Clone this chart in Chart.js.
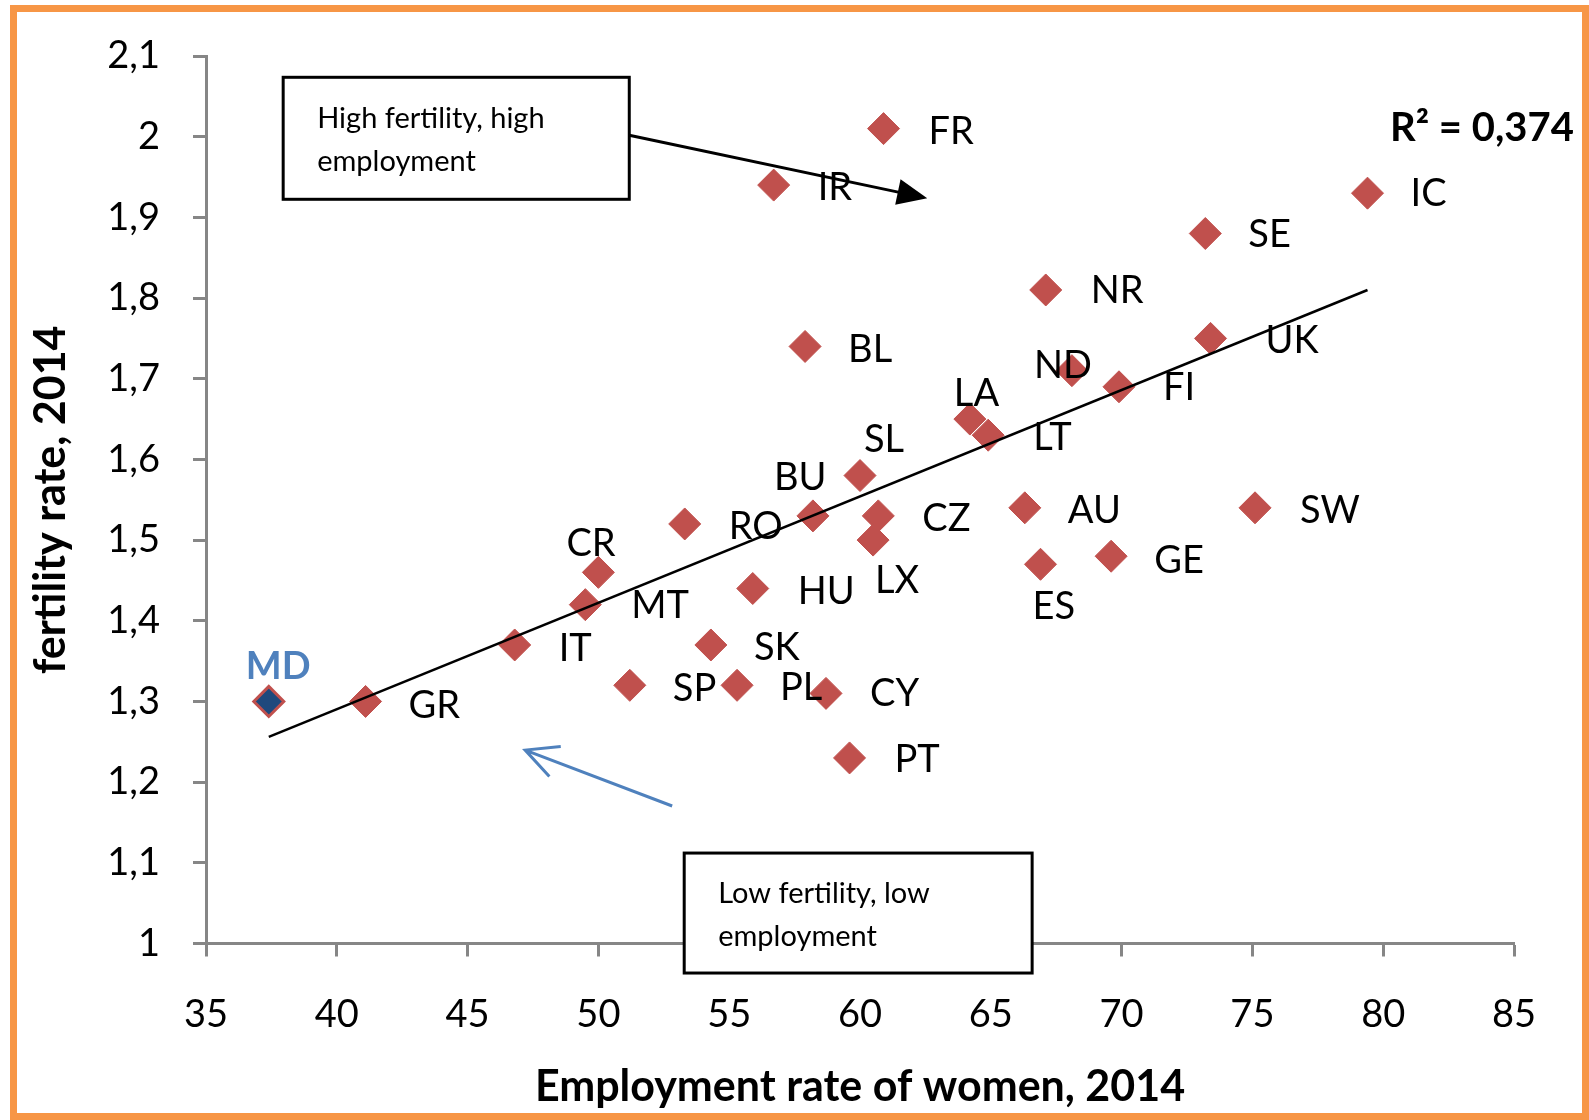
<!DOCTYPE html>
<html>
<head>
<meta charset="utf-8">
<script src="https://cdn.jsdelivr.net/npm/chart.js@4.4.0/dist/chart.umd.min.js"></script>
<style>
  html, body { margin: 0; padding: 0; background: #fff; }
  #wrap { position: relative; width: 1589px; height: 1120px; }
</style>
</head>
<body>
<div id="wrap"><canvas id="fertChart" width="1589" height="1120"></canvas></div>
<script>
// country codes, employment rate of women (x) and fertility rate (y), 2014
var countries = ['FR', 'IR', 'IC', 'SE', 'NR', 'UK', 'BL', 'ND', 'FI', 'LA', 'LT', 'SL', 'BU', 'CZ', 'LX',
                 'AU', 'SW', 'RO', 'ES', 'GE', 'CR', 'MT', 'HU', 'IT', 'SK', 'SP', 'PL', 'CY', 'PT', 'GR'];
var empRate = [60.9, 56.7, 79.4, 73.2, 67.1, 73.4, 57.9, 68.1, 69.9, 64.2, 64.9, 60.0, 58.2, 60.7, 60.5,
               66.3, 75.1, 53.3, 66.9, 69.6, 50.0, 49.5, 55.9, 46.8, 54.3, 51.2, 55.3, 58.7, 59.6, 41.1];
var fertRate = [2.01, 1.94, 1.93, 1.88, 1.81, 1.75, 1.74, 1.71, 1.69, 1.65, 1.63, 1.58, 1.53, 1.53, 1.50,
                1.54, 1.54, 1.52, 1.47, 1.48, 1.46, 1.42, 1.44, 1.37, 1.37, 1.32, 1.32, 1.31, 1.23, 1.30];

// Moldova, highlighted
var mdLabel = 'MD';
var mdEmp = 37.4;
var mdFert = 1.30;

// linear trend line ends, as drawn in the picture
var trendX = [37.4, 79.4];
var trendY = [1.256, 1.81];
var rSquared = 'R\u00b2 = 0,374';

var xTickLabels = ['35', '40', '45', '50', '55', '60', '65', '70', '75', '80', '85'];
var yTickLabels = ['1', '1,1', '1,2', '1,3', '1,4', '1,5', '1,6', '1,7', '1,8', '1,9', '2', '2,1'];

var xTitle = 'Employment rate of women, 2014';
var yTitle = 'fertility rate, 2014';

// label offsets in px from the marker: [dx to text left, dy to text centre]
var labelOffsets = {
    FR: [45, 3], IR: [44, 3], IC: [43, 1], SE: [43, 1], NR: [45, 1], UK: [55, 2], BL: [43, 3],
    ND: [-38, -5], FI: [44, 1], LA: [-16, -25], LT: [45, 3], SL: [4, -36], BU: [-39, -38],
    CZ: [44, 3], LX: [2, 41], AU: [43, 3], SW: [45, 3], RO: [44, 3], ES: [-8, 42], GE: [43, 5],
    CR: [-32, -29], MT: [46, 1], HU: [45, 3], IT: [44, 4], SK: [43, 3], SP: [43, 3], PL: [43, 2],
    CY: [44, 0], PT: [45, 2], GR: [43, 4], MD: [-23, -35]
};

var FONT = 'Lato, "Open Sans", sans-serif';
var RED = '#C0504D';
var BLUE = '#4F81BD';
var GREY = '#868686';

function scatterPoints(xs, ys) {
    var pts = [];
    for (var i = 0; i < xs.length; i++) pts.push({ x: xs[i], y: ys[i] });
    return pts;
}

// annotations: labels, text boxes, arrows, frame
var annotate = {
    id: 'annotate',
    afterDraw: function (chart) {
        var ctx = chart.ctx;
        var xs = chart.scales.x, ys = chart.scales.y;
        var X = function (v) { return xs.getPixelForValue(v); };
        var Y = function (v) { return ys.getPixelForValue(v); };

        ctx.save();
        // country labels
        ctx.font = '38px ' + FONT;
        ctx.fillStyle = '#000';
        ctx.textAlign = 'left';
        ctx.textBaseline = 'middle';
        for (var i = 0; i < countries.length; i++) {
            var off = labelOffsets[countries[i]];
            ctx.fillText(countries[i], X(empRate[i]) + off[0], Y(fertRate[i]) + off[1]);
        }
        ctx.font = 'bold 38px ' + FONT;
        ctx.fillStyle = BLUE;
        ctx.fillText(mdLabel, X(mdEmp) + labelOffsets.MD[0], Y(mdFert) + labelOffsets.MD[1]);

        // R squared
        ctx.font = 'bold 40px ' + FONT;
        ctx.fillStyle = '#000';
        ctx.textAlign = 'right';
        ctx.fillText(rSquared, X(87.29), Y(2.0104));

        // text boxes
        function box(x1, y1, x2, y2, lines) {
            var l = X(x1), t = Y(y1), r = X(x2), b = Y(y2);
            ctx.fillStyle = '#fff';
            ctx.fillRect(l, t, r - l, b - t);
            ctx.strokeStyle = '#000';
            ctx.lineWidth = 3;
            ctx.strokeRect(l, t, r - l, b - t);
            ctx.font = '29px ' + FONT;
            ctx.fillStyle = '#000';
            ctx.textAlign = 'left';
            ctx.textBaseline = 'middle';
            ctx.fillText(lines[0], l + 34, t + 41);
            ctx.fillText(lines[1], l + 34, t + 84);
        }
        box(37.95, 2.0736, 51.18, 1.9224, ['High fertility, high', 'employment']);
        box(53.28, 1.1121, 66.58, 0.9634, ['Low fertility, low', 'employment']);

        // black arrow with filled head
        var ax1 = X(51.18), ay1 = Y(2.0017), ax2 = X(62.57), ay2 = Y(1.9237);
        var ang = Math.atan2(ay2 - ay1, ax2 - ax1);
        ctx.strokeStyle = '#000';
        ctx.lineWidth = 3;
        ctx.beginPath();
        ctx.moveTo(ax1, ay1);
        ctx.lineTo(ax2 - 20 * Math.cos(ang), ay2 - 20 * Math.sin(ang));
        ctx.stroke();
        ctx.fillStyle = '#000';
        ctx.beginPath();
        ctx.moveTo(ax2, ay2);
        ctx.lineTo(ax2 - 30 * Math.cos(ang) + 13 * Math.sin(ang), ay2 - 30 * Math.sin(ang) - 13 * Math.cos(ang));
        ctx.lineTo(ax2 - 30 * Math.cos(ang) - 13 * Math.sin(ang), ay2 - 30 * Math.sin(ang) + 13 * Math.cos(ang));
        ctx.closePath();
        ctx.fill();

        // blue arrow with open head
        var bx1 = X(52.82), by1 = Y(1.1704), bx2 = X(47.20), by2 = Y(1.2397);
        var ang2 = Math.atan2(by2 - by1, bx2 - bx1);
        ctx.strokeStyle = BLUE;
        ctx.lineWidth = 3;
        ctx.beginPath();
        ctx.moveTo(bx1, by1);
        ctx.lineTo(bx2, by2);
        ctx.moveTo(bx2 - 32 * Math.cos(ang2) + 16 * Math.sin(ang2), by2 - 32 * Math.sin(ang2) - 16 * Math.cos(ang2));
        ctx.lineTo(bx2, by2);
        ctx.lineTo(bx2 - 32 * Math.cos(ang2) - 16 * Math.sin(ang2), by2 - 32 * Math.sin(ang2) + 16 * Math.cos(ang2));
        ctx.stroke();

        // orange frame
        ctx.strokeStyle = '#F79646';
        ctx.lineWidth = 7;
        ctx.strokeRect(13.5, 8.5, 1572, 1108);
        ctx.restore();
    }
};

var ctx = document.getElementById('fertChart').getContext('2d');
var myChart = new Chart(ctx, {
    type: 'scatter',
    data: {
        datasets: [
            {
                label: 'trend',
                type: 'line',
                data: scatterPoints(trendX, trendY),
                borderColor: '#000',
                borderWidth: 2.5,
                pointRadius: 0,
                fill: false
            },
            {
                label: 'MD',
                data: [{ x: mdEmp, y: mdFert }],
                pointStyle: 'rectRot',
                pointRadius: 15,
                backgroundColor: '#1F497D',
                borderColor: RED,
                borderWidth: 3
            },
            {
                label: 'countries',
                data: scatterPoints(empRate, fertRate),
                pointStyle: 'rectRot',
                pointRadius: 16,
                backgroundColor: RED,
                borderColor: RED,
                borderWidth: 1
            }
        ]
    },
    options: {
        responsive: false,
        animation: false,
        events: [],
        layout: { padding: { left: 0, top: 56, right: 75, bottom: 0 } },
        plugins: { legend: { display: false }, tooltip: { enabled: false } },
        scales: {
            x: {
                type: 'linear',
                min: 35,
                max: 85,
                afterFit: function (scale) { scale.height = 176.5; },
                ticks: {
                    stepSize: 5,
                    padding: 35,
                    color: '#000',
                    font: { family: FONT, size: 38 },
                    maxRotation: 0,
                    callback: function (v, i) { return xTickLabels[i]; }
                },
                grid: { drawOnChartArea: false, tickLength: 13, tickColor: GREY, tickWidth: 3 },
                border: { color: GREY, width: 3 },
                title: {
                    display: true,
                    text: xTitle,
                    color: '#000',
                    font: { family: FONT, size: 43, weight: 'bold' },
                    padding: { top: 0, bottom: 7 }
                }
            },
            y: {
                type: 'linear',
                min: 1,
                max: 2.1,
                afterFit: function (scale) { scale.width = 206; },
                ticks: {
                    stepSize: 0.1,
                    padding: 33,
                    color: '#000',
                    font: { family: FONT, size: 38 },
                    callback: function (v, i) { return yTickLabels[i]; }
                },
                grid: { drawOnChartArea: false, tickLength: 13, tickColor: GREY, tickWidth: 3 },
                border: { color: GREY, width: 3 },
                title: {
                    display: true,
                    text: yTitle,
                    color: '#000',
                    font: { family: FONT, size: 43, weight: 'bold' },
                    padding: { top: 25, bottom: 0 }
                }
            }
        }
    },
    plugins: [annotate]
});
</script>
</body>
</html>
